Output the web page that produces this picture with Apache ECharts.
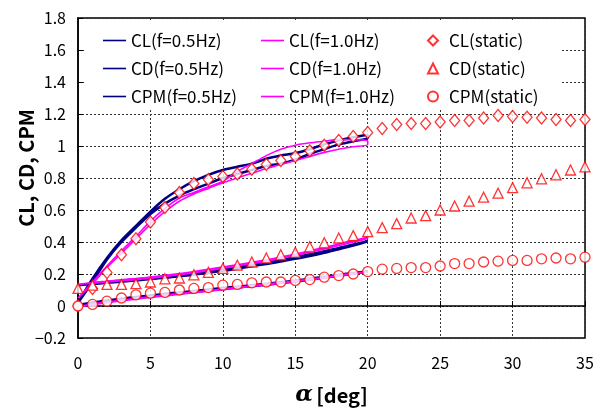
<!DOCTYPE html>
<html>
<head>
<meta charset="utf-8">
<script src="https://cdn.jsdelivr.net/npm/echarts@6/dist/echarts.min.js"></script>
<style>
  html, body { margin: 0; padding: 0; background: #fff; }
  #chart { width: 604px; height: 410px; }
</style>
</head>
<body>
<div id="chart"></div>
<script>
// 迎角 (動的試験は 0→20→0 deg の往復)
const alphaDyn = [0,1,2,3,4,5,6,7,8,9,10,11,12,13,14,15,16,17,18,19,20];
const alphaStatic = [0,1,2,3,4,5,6,7,8,9,10,11,12,13,14,15,16,17,18,19,20,21,22,23,24,25,26,27,28,29,30,31,32,33,34,35];

// f=0.5Hz
const clUp05   = [0.02,0.17,0.30,0.41,0.50,0.59,0.67,0.73,0.78,0.82,0.85,0.87,0.89,0.92,0.94,0.955,0.98,1.01,1.035,1.055,1.07];
const clDown05 = [0.02,0.15,0.29,0.40,0.49,0.575,0.64,0.69,0.73,0.765,0.80,0.825,0.85,0.875,0.89,0.915,0.95,0.98,1.01,1.03,1.05];
const cdUp05   = [0.13,0.137,0.145,0.152,0.16,0.168,0.176,0.186,0.196,0.208,0.22,0.233,0.248,0.263,0.278,0.295,0.313,0.333,0.355,0.378,0.405];
const cdDown05 = [0.13,0.14,0.15,0.158,0.166,0.174,0.183,0.193,0.204,0.216,0.23,0.243,0.257,0.272,0.288,0.305,0.323,0.343,0.363,0.385,0.405];
const cpmUp05   = [0.005,0.018,0.03,0.04,0.05,0.06,0.07,0.079,0.088,0.097,0.106,0.115,0.124,0.133,0.143,0.153,0.164,0.176,0.189,0.202,0.215];
const cpmDown05 = [0.005,0.022,0.035,0.046,0.056,0.066,0.076,0.085,0.094,0.103,0.112,0.121,0.13,0.139,0.149,0.159,0.17,0.182,0.194,0.206,0.215];

// f=1.0Hz
const clUp10   = [0.05,0.15,0.25,0.345,0.435,0.53,0.61,0.675,0.71,0.745,0.78,0.84,0.89,0.94,0.98,1.005,1.02,1.03,1.04,1.04,1.03];
const clDown10 = [0.05,0.14,0.24,0.33,0.42,0.51,0.59,0.655,0.70,0.735,0.77,0.80,0.83,0.86,0.885,0.91,0.935,0.96,0.98,0.995,1.01];
const cdUp10   = [0.135,0.142,0.15,0.158,0.165,0.174,0.184,0.195,0.208,0.222,0.236,0.25,0.265,0.28,0.298,0.316,0.336,0.356,0.378,0.40,0.425];
const cdDown10 = [0.135,0.146,0.155,0.164,0.172,0.181,0.192,0.203,0.216,0.23,0.244,0.258,0.273,0.289,0.306,0.325,0.345,0.366,0.388,0.41,0.43];
const cpmUp10   = [-0.005,0.008,0.02,0.032,0.043,0.053,0.063,0.073,0.083,0.093,0.102,0.112,0.122,0.132,0.142,0.152,0.163,0.175,0.188,0.201,0.213];
const cpmDown10 = [-0.005,0.012,0.025,0.037,0.048,0.058,0.068,0.078,0.088,0.097,0.107,0.117,0.127,0.137,0.147,0.157,0.168,0.18,0.192,0.204,0.213];

// 静的試験
const clStatic  = [0.0,0.11,0.21,0.32,0.42,0.525,0.615,0.71,0.765,0.79,0.81,0.825,0.855,0.885,0.91,0.935,0.97,1.005,1.035,1.06,1.085,1.11,1.135,1.14,1.14,1.15,1.16,1.16,1.175,1.19,1.185,1.18,1.175,1.165,1.16,1.165];
const cdStatic  = [0.11,0.13,0.135,0.135,0.14,0.15,0.17,0.175,0.195,0.21,0.235,0.255,0.275,0.30,0.32,0.335,0.37,0.395,0.425,0.44,0.465,0.49,0.515,0.55,0.565,0.60,0.625,0.655,0.68,0.705,0.74,0.77,0.795,0.82,0.85,0.87];
const cpmStatic = [0.0,0.01,0.03,0.05,0.07,0.08,0.085,0.10,0.11,0.115,0.13,0.135,0.145,0.15,0.15,0.16,0.165,0.18,0.19,0.20,0.215,0.23,0.235,0.24,0.24,0.25,0.265,0.265,0.275,0.28,0.285,0.285,0.295,0.30,0.295,0.305];

const xTicks = [0,5,10,15,20,25,30,35];
const yTicks = [-0.2,0,0.2,0.4,0.6,0.8,1,1.2,1.4,1.6,1.8];

const NAVY = '#000080', MAGENTA = '#ff00ff', RED = '#ff0000';
const FONT = '"Noto Sans CJK JP", sans-serif';

// 往復ループ: 上昇 0→20 の後に下降 20→0
const loop = (up, down) => {
    const pts = alphaDyn.map((a, i) => [a, up[i]]);
    for (let i = alphaDyn.length - 1; i >= 0; i--) pts.push([alphaDyn[i], down[i]]);
    return pts;
};
const pairs = (xs, ys) => xs.map((x, i) => [x, ys[i]]);

const lineSeries = (name, data, color, width) => ({
    name, type: 'line', data, symbol: 'none', smooth: 0.3, z: 2,
    lineStyle: { color, width }, itemStyle: { color }
});
const staticSeries = (name, data, symbol, size) => ({
    name, type: 'scatter', data, symbol, symbolSize: size, z: 5,
    itemStyle: { color: '#fff', borderColor: RED, borderWidth: 1.3 }
});

const legendText = { fontSize: 17, color: '#000', fontFamily: FONT };
// 線の凡例は細い矩形アイコンで代用
const lineLegend = (left, names) => ({
    orient: 'vertical', left, top: 27, itemGap: 11, itemWidth: 23, itemHeight: 1.6,
    icon: 'rect', textStyle: legendText, data: names
});

const chart = echarts.init(document.getElementById('chart'));
chart.setOption({
    animation: false,
    grid: { left: 78, right: 19, top: 18, bottom: 72, outerBoundsMode: 'none',
        show: true, borderColor: '#000', borderWidth: 1.5 },
    graphic: [{ type: 'rect', z: 1, silent: true, shape: { x: 84, y: 21, width: 477, height: 88 }, style: { fill: '#fff' } }],
    legend: [
        lineLegend(98, ['CL(f=0.5Hz)', 'CD(f=0.5Hz)', 'CPM(f=0.5Hz)']),
        lineLegend(256, ['CL(f=1.0Hz)', 'CD(f=1.0Hz)', 'CPM(f=1.0Hz)']),
        { orient: 'vertical', left: 422, top: 27, itemGap: 11, itemWidth: 10, itemHeight: 10,
          textStyle: { ...legendText, padding: [0, 0, 0, 6] }, data: ['CL(static)', 'CD(static)', 'CPM(static)'] }
    ],
    xAxis: {
        type: 'value', min: xTicks[0], max: xTicks[xTicks.length - 1], interval: 5,
        name: '{a|α} {b|[deg]}', nameLocation: 'middle', nameGap: 46, nameMoveOverlap: false,
        nameTextStyle: { rich: {
            a: { fontSize: 23, fontStyle: 'italic', fontWeight: 'bold', fontFamily: 'DejaVu Serif', color: '#000' },
            b: { fontSize: 20, fontWeight: 'bold', fontFamily: FONT, color: '#000' }
        } },
        axisLine: { lineStyle: { color: '#000', width: 1.5 } },
        axisTick: { inside: true, length: 5, lineStyle: { color: '#000' } },
        axisLabel: { fontSize: 16, color: '#000', fontFamily: FONT, margin: 17 },
        splitLine: { lineStyle: { color: '#333', type: [2, 2], width: 1 } }
    },
    yAxis: {
        type: 'value', min: yTicks[0], max: yTicks[yTicks.length - 1], interval: 0.2,
        name: 'CL, CD, CPM', nameLocation: 'middle', nameGap: 42, nameMoveOverlap: false,
        nameTextStyle: { fontSize: 20, fontWeight: 'bold', color: '#000', fontFamily: FONT, padding: [0, 0, 0, 20] },
        axisLine: { show: true, lineStyle: { color: '#000', width: 1.5 } },
        axisTick: { show: true, inside: true, length: 5, lineStyle: { color: '#000' } },
        axisLabel: { fontSize: 16, color: '#000', fontFamily: FONT, margin: 12,
            formatter: v => String(Math.round(v * 10) / 10).replace('-', '\u2212') },
        splitLine: { lineStyle: { color: '#333', type: [2, 2], width: 1 } }
    },
    series: [
        lineSeries('CL(f=0.5Hz)', loop(clUp05, clDown05), NAVY, 2.5),
        lineSeries('CD(f=0.5Hz)', loop(cdUp05, cdDown05), NAVY, 2.5),
        lineSeries('CPM(f=0.5Hz)', loop(cpmUp05, cpmDown05), NAVY, 2.5),
        lineSeries('CL(f=1.0Hz)', loop(clUp10, clDown10), MAGENTA, 1.6),
        lineSeries('CD(f=1.0Hz)', loop(cdUp10, cdDown10), MAGENTA, 1.6),
        lineSeries('CPM(f=1.0Hz)', loop(cpmUp10, cpmDown10), MAGENTA, 1.6),
        staticSeries('CL(static)', pairs(alphaStatic, clStatic), 'diamond', [10, 12]),
        staticSeries('CD(static)', pairs(alphaStatic, cdStatic), 'triangle', [10, 10]),
        staticSeries('CPM(static)', pairs(alphaStatic, cpmStatic), 'circle', 10)
    ]
});
</script>
</body>
</html>
